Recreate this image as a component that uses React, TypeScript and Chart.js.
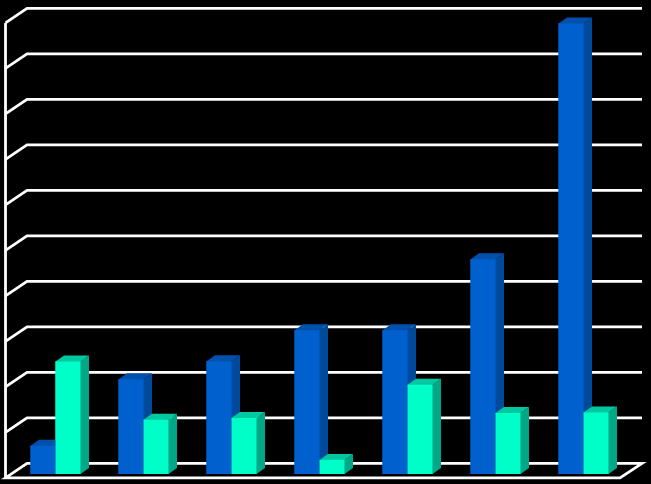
import React, { useEffect, useRef } from "react";
import { Chart, registerables } from "chart.js";

Chart.register(...registerables);

const categories = ["1", "2", "3", "4", "5", "6", "7"];
const blueValues = [0.62, 2.08, 2.48, 3.16, 3.16, 4.72, 9.9];
const tealValues = [2.47, 1.19, 1.23, 0.31, 1.96, 1.34, 1.35];
const gridValues = [0, 1, 2, 3, 4, 5, 6, 7, 8, 9, 10];

const BAR_DX = 8.5;
const BAR_DY = 6;

const faces: { side: string; top: string }[] = [
  { side: "#004A9C", top: "#0050AC" },
  { side: "#00A888", top: "#00C8A0" },
];

const poly = (ctx: CanvasRenderingContext2D, pts: number[][], fill: string) => {
  ctx.beginPath();
  pts.forEach(([x, y], i) => (i ? ctx.lineTo(x, y) : ctx.moveTo(x, y)));
  ctx.closePath();
  ctx.fillStyle = fill;
  ctx.fill();
};

const walls = {
  id: "walls",
  beforeDatasetsDraw(chart: any) {
    const { ctx, chartArea, scales } = chart;
    const y = scales.y;
    const frontL = chartArea.left - 6;
    const backL = chartArea.left + 15.5;
    const frontR = chartArea.right - 7.5;
    const backR = chartArea.right + 14.5;
    const frontDy = 3.9;
    const backDy = -10.6;
    ctx.save();
    ctx.strokeStyle = "#ffffff";
    ctx.lineWidth = 2.8;
    ctx.lineJoin = "miter";
    gridValues.forEach((v) => {
      const py = y.getPixelForValue(v);
      ctx.beginPath();
      ctx.moveTo(frontL, py + frontDy);
      ctx.lineTo(backL, py + backDy);
      ctx.lineTo(backR, py + backDy);
      if (v === 0) {
        ctx.lineTo(frontR, py + frontDy);
        ctx.closePath();
      }
      ctx.stroke();
    });
    ctx.beginPath();
    ctx.moveTo(frontL, y.getPixelForValue(10) + frontDy);
    ctx.lineTo(frontL, y.getPixelForValue(0) + frontDy);
    ctx.stroke();
    ctx.restore();
  },
};

// Chart.js paints the first dataset last, so the bars are repainted here
// left to right: side and top faces first, then the front, so no seam shows the grid.
const bar3d = {
  id: "bar3d",
  afterDatasetsDraw(chart: any) {
    const { ctx } = chart;
    const base = chart.scales.y.getPixelForValue(0);
    const count = chart.getDatasetMeta(0).data.length;
    ctx.save();
    for (let i = 0; i < count; i++) {
      faces.forEach((face, d) => {
        const el = chart.getDatasetMeta(d).data[i];
        const r = el.x + el.width / 2;
        const l = el.x - el.width / 2;
        const t = el.y;
        poly(ctx, [[r - 1, t + 1], [r, t], [r + BAR_DX, t - BAR_DY], [r + BAR_DX, base - BAR_DY], [r, base], [r - 1, base]], face.side);
        poly(ctx, [[l, t + 1], [l, t], [l + BAR_DX, t - BAR_DY], [r + BAR_DX, t - BAR_DY], [r, t], [r, t + 1]], face.top);
        el.draw(ctx);
      });
    }
    ctx.restore();
  },
};

export default function App() {
  const ref = useRef<HTMLCanvasElement>(null);
  useEffect(() => {
    document.body.style.margin = "0";
    document.body.style.background = "#000";
    const chart = new Chart(ref.current!, {
      type: "bar",
      data: {
        labels: categories,
        datasets: [
          { data: blueValues, backgroundColor: "#0060CE", categoryPercentage: 0.568, barPercentage: 1 },
          { data: tealValues, backgroundColor: "#00FFC8", categoryPercentage: 0.568, barPercentage: 1 },
        ],
      },
      options: {
        animation: false,
        responsive: false,
        devicePixelRatio: 1,
        layout: { padding: { left: 11.5, right: 23.5, top: 19, bottom: 10 } },
        plugins: { legend: { display: false }, tooltip: { enabled: false } },
        scales: {
          x: { display: false },
          y: { display: false, min: 0, max: 10 },
        },
      },
      plugins: [walls, bar3d],
    });
    return () => chart.destroy();
  }, []);
  return (
    <div style={{ width: 651, height: 484, background: "#000", overflow: "hidden" }}>
      <canvas ref={ref} width={651} height={484} style={{ display: "block" }} />
    </div>
  );
}
